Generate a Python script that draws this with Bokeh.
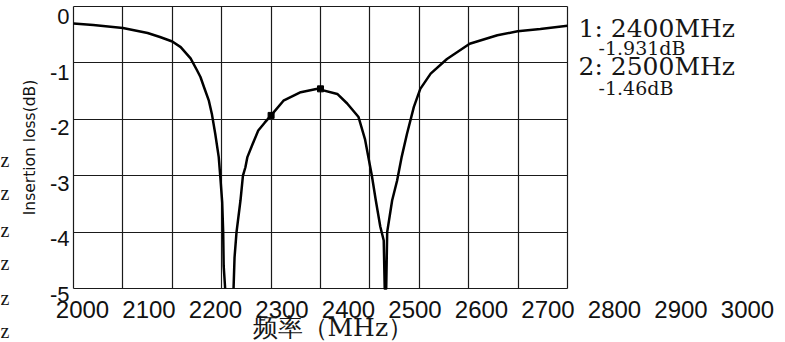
from bokeh.plotting import figure
from bokeh.models import Range1d, LinearAxis, FixedTicker, Grid, Label
from bokeh.embed import file_html
from bokeh.resources import INLINE

# ---------------- data ----------------
NAN = float("nan")   # the trace runs below the -5 dB floor here (off the chart)
freq_mhz = [2000, 2040, 2100, 2150, 2175, 2200, 2217, 2237, 2250, 2257, 2265, 2274, 2280, 2287, 2294, 2297,
            2301, 2303, 2304, 2307,
            2315,
            2324, 2326, 2330, 2338, 2343, 2348, 2352, 2362, 2374, 2387, 2400, 2425, 2460, 2494, 2534, 2554,
            2577, 2590, 2604, 2612, 2621, 2628, 2630, 2633, 2635, 2645, 2655, 2664, 2675, 2689, 2702, 2723,
            2756, 2802, 2858, 2899, 2945, 3000]
loss_db = [-0.30, -0.33, -0.38, -0.47, -0.54, -0.62, -0.72, -0.92, -1.13, -1.25, -1.45, -1.67, -1.90, -2.26, -2.67, -3.00,
           -3.47, -4.00, -4.60, -5.00,
           NAN,
           -5.00, -4.45, -4.00, -3.44, -3.00, -2.85, -2.67, -2.45, -2.20, -2.06, -1.931, -1.67, -1.52, -1.46, -1.55, -1.72,
           -1.96, -2.35, -3.00, -3.44, -3.90, -4.15, -5.00, -5.00, -4.00, -3.44, -3.09, -2.68, -2.26, -1.78, -1.46, -1.19,
           -0.93, -0.66, -0.51, -0.44, -0.40, -0.34]

marker_freq = [2400, 2500]
marker_loss = [-1.931, -1.46]

grid_x = [2000, 2100, 2200, 2300, 2400, 2500, 2600, 2700, 2800, 2900, 3000]
grid_y = [0, -1, -2, -3, -4, -5]
x_tick_values = [2000, 2100, 2200, 2300, 2400, 2500, 2600, 2700, 2800, 2900, 3000]
x_tick_labels = ["2000", "2100", "2200", "2300", "2400", "2500", "2600", "2700", "2800", "2900", "3000"]
y_tick_values = [0, -1, -2, -3, -4, -5]
y_tick_labels = ["0", "-1", "-2", "-3", "-4", "-5"]
x_title = "频率（MHz）"
y_title = "Insertion loss(dB)"
cut_text = ["z", "z", "z", "z", "z", "z"]   # clipped fragments at the left edge

# ---------------- layout (pixels) ----------------
W, H = 785, 342
# data area: 2000..3000 MHz -> x 73..567 ; 0..-5 dB -> y 6..288
xppu = (567 - 73) / 1000.0
yppu = (288 - 6) / 5.0
x0 = 2000 - 73 / xppu
y1 = 6 / yppu
x_range = Range1d(x0, x0 + W / xppu)
y_range = Range1d(y1 - H / yppu, y1)
# tick-label scales (labels are spread wider than the grid in the original)
lxppu = (747 - 82) / 1000.0
lx0 = 2000 - 82 / lxppu
lyppu = (294 - 16) / 5.0
ly1 = 16 / lyppu

p = figure(width=W, height=H, x_range=x_range, y_range=y_range,
           output_backend="svg", toolbar_location=None,
           x_axis_location=None, y_axis_location=None,
           min_border=0, outline_line_color=None,
           background_fill_color="white", border_fill_color="white")
p.xgrid.visible = False
p.ygrid.visible = False

p.extra_x_ranges = {"xlab": Range1d(lx0, lx0 + W / lxppu)}
p.extra_y_ranges = {"ylab": Range1d(ly1 - H / lyppu, ly1)}

xg = Grid(dimension=0, ticker=FixedTicker(ticks=grid_x), bounds=(grid_x[0], grid_x[-1]),
          cross_bounds=(grid_y[-1], grid_y[0]), grid_line_color="#1a1a1a", grid_line_width=1.2)
yg = Grid(dimension=1, ticker=FixedTicker(ticks=grid_y), bounds=(grid_y[-1], grid_y[0]),
          cross_bounds=(grid_x[0], grid_x[-1]), grid_line_color="#1a1a1a", grid_line_width=1.2)
p.add_layout(xg)
p.add_layout(yg)

xaxis = LinearAxis(x_range_name="xlab", fixed_location=grid_y[-1],
                   ticker=FixedTicker(ticks=x_tick_values),
                   major_label_overrides={v: s for v, s in zip(x_tick_values, x_tick_labels)},
                   axis_line_color=None, major_tick_line_color=None, minor_tick_line_color=None,
                   major_tick_out=0, major_tick_in=0, major_label_standoff=12,
                   major_label_text_font="Liberation Sans", major_label_text_font_size="24px",
                   major_label_text_color="#111111")
p.add_layout(xaxis, "below")

yaxis = LinearAxis(y_range_name="ylab", fixed_location=grid_x[0], bounds=(-5, 0.3),
                   ticker=FixedTicker(ticks=y_tick_values),
                   major_label_overrides={v: s for v, s in zip(y_tick_values, y_tick_labels)},
                   axis_line_color=None, major_tick_line_color=None, minor_tick_line_color=None,
                   major_tick_out=0, major_tick_in=0, major_label_standoff=4,
                   major_label_text_font="Liberation Sans", major_label_text_font_size="22px",
                   major_label_text_color="#111111",
                   axis_label=y_title, axis_label_standoff=8,
                   axis_label_text_font="DejaVu Sans", axis_label_text_font_size="15.5px",
                   axis_label_text_font_style="normal", axis_label_text_color="#111111")
p.add_layout(yaxis, "left")

p.line(freq_mhz, loss_db, line_color="black", line_width=2.5, line_join="round")
p.scatter(marker_freq, marker_loss, marker="square", size=6, color="black")


def put(txt, x_img, mid_img, font, size):
    # screen units: x from the left edge, y up from the bottom edge
    p.add_layout(Label(x=x_img, y=H - mid_img, x_units="screen", y_units="screen", text=txt,
                       text_font=font, text_font_size=size, text_color="#161616",
                       text_baseline="middle", text_align="left"))


# marker read-outs
for i, (f, v) in enumerate(zip(marker_freq, marker_loss)):
    put(f"{i + 1}: {f}MHz", 578, 28 + 38 * i, "DejaVu Serif", "25px")
    put(f"{v}dB", 598, 47 + 40 * i, "DejaVu Serif", "19px")

put(x_title, 252, 327, "DejaVu Serif", "25px")

for k, t in enumerate(cut_text):
    put(t, 0, [159, 192, 229, 262, 297, 330][k], "Liberation Serif", "20px")

open("out.html", "w").write(file_html(p, INLINE))
